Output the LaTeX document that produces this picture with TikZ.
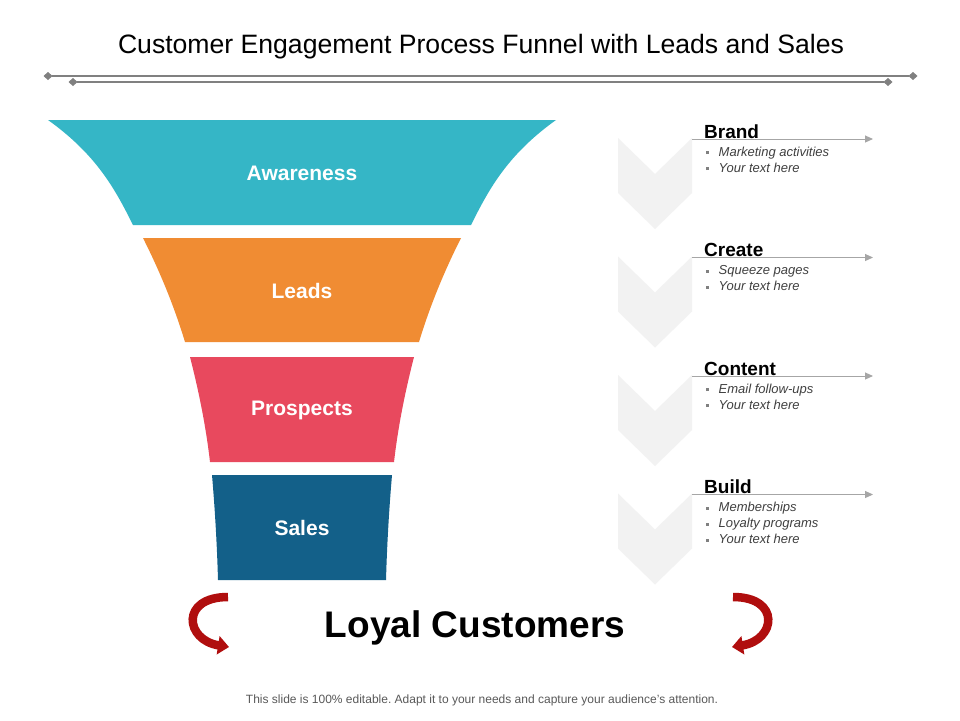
\documentclass[tikz,border=0pt]{standalone}
\usepackage{fontspec}
\setmainfont{Liberation Sans}
\usetikzlibrary{arrows.meta}
\frenchspacing

\definecolor{awarecol}{HTML}{35B6C6}
\definecolor{leadcol}{HTML}{F08C33}
\definecolor{prospcol}{HTML}{E8495E}
\definecolor{salescol}{HTML}{136089}
\definecolor{chevgray}{HTML}{F2F2F2}
\definecolor{linegray}{HTML}{A6A6A6}
\definecolor{rulegray}{HTML}{808080}
\definecolor{listgray}{HTML}{404040}
\definecolor{footgray}{HTML}{595959}
\definecolor{loopred}{HTML}{B00E0E}

\newcommand{\sqbul}{\textcolor{rulegray}{\rule[2pt]{3pt}{3pt}}}

\begin{document}
\begin{tikzpicture}[x=1pt, y=-1pt,
  band label/.style={text=white, font=\fontsize{21}{24}\selectfont\bfseries},
  chev/.style={fill=chevgray},
  stage head/.style={anchor=base west, inner sep=0pt, font=\fontsize{19}{22}\selectfont\bfseries},
  stage list/.style={anchor=base west, inner sep=0pt, text=listgray, font=\fontsize{13}{16}\selectfont\itshape},
  pointer/.style={draw=linegray, line width=1pt, -{Triangle[length=8pt,width=7pt]}},
  rule line/.style={draw=rulegray, line width=1.2pt, {Diamond[length=9pt,width=8pt]}-{Diamond[length=9pt,width=8pt]}},
  turn arrow/.style={draw=loopred, line width=8.5pt, -{Triangle[length=11pt,width=18pt]}}]

  \useasboundingbox[fill=white] (0,0) rectangle (960,720);

  % Title and the two rules under it
  \node[anchor=base, font=\fontsize{26.6}{30}\selectfont] (title) at (481,53)
    {Customer Engagement Process Funnel with Leads and Sales};
  \coordinate (ruleAa) at (43.5,76);  \coordinate (ruleAb) at (917.5,76);
  \coordinate (ruleBa) at (68.5,82);  \coordinate (ruleBb) at (892.5,82);
  \draw[rule line] (ruleAa) -- (ruleAb);
  \draw[rule line] (ruleBa) -- (ruleBb);

  % Funnel bands, widest on top
  \fill[awarecol] (48,120) -- (556,120) .. controls (507,155) and (488.5,190) .. (471,225)
    -- (133,225) .. controls (115.5,190) and (97,155) .. (48,120) -- cycle;
  \fill[leadcol] (143,238) -- (461,238) .. controls (443.5,272.7) and (429.5,307.3) .. (419,342)
    -- (185,342) .. controls (174.5,307.3) and (160.5,272.7) .. (143,238) -- cycle;
  \fill[prospcol] (190,357) -- (414,357) .. controls (405,392) and (398,427) .. (394,462)
    -- (210,462) .. controls (206,427) and (199,392) .. (190,357) -- cycle;
  \fill[salescol] (212,475) -- (392,475) .. controls (389,510) and (387,545) .. (386,580)
    -- (218,580) .. controls (217,545) and (215,510) .. (212,475) -- cycle;

  \node[band label] (awareness) at (302,173.5) {Awareness};
  \node[band label] (leads)     at (302,291)   {Leads};
  \node[band label] (prospects) at (302,410) {Prospects};
  \node[band label] (sales)     at (302,528) {Sales};

  % Chevrons behind the stage notes
  \fill[chev] (618,138) -- (655,174) -- (692,138) -- (692,193) -- (655,229) -- (618,193) -- cycle;
  \fill[chev] (618,256.5) -- (655,292.5) -- (692,256.5) -- (692,311.5) -- (655,347.5) -- (618,311.5) -- cycle;
  \fill[chev] (618,375) -- (655,411) -- (692,375) -- (692,430) -- (655,466) -- (618,430) -- cycle;
  \fill[chev] (618,493.5) -- (655,529.5) -- (692,493.5) -- (692,548.5) -- (655,584.5) -- (618,548.5) -- cycle;

  % Stage notes
  \coordinate (brandL) at (692,139);    \coordinate (brandR) at (873,139);
  \coordinate (createL) at (692,257.5); \coordinate (createR) at (873,257.5);
  \coordinate (contentL) at (692,376);  \coordinate (contentR) at (873,376);
  \coordinate (buildL) at (692,494.5);  \coordinate (buildR) at (873,494.5);
  \draw[pointer] (brandL) -- (brandR);
  \draw[pointer] (createL) -- (createR);
  \draw[pointer] (contentL) -- (contentR);
  \draw[pointer] (buildL) -- (buildR);

  \node[stage head] (brand) at (704,138) {Brand};
  \node[stage list] (brandlist) at (706,156) {%
    \begin{tabular}[t]{@{}l@{\hspace{9.5pt}}l@{}}
      \sqbul & Marketing activities \\
      \sqbul & Your text here
    \end{tabular}};

  \node[stage head] (create) at (704,256.5) {Create};
  \node[stage list] (createlist) at (706,274.5) {%
    \begin{tabular}[t]{@{}l@{\hspace{9.5pt}}l@{}}
      \sqbul & Squeeze pages \\
      \sqbul & Your text here
    \end{tabular}};

  \node[stage head] (content) at (704,375) {Content};
  \node[stage list] (contentlist) at (706,393) {%
    \begin{tabular}[t]{@{}l@{\hspace{9.5pt}}l@{}}
      \sqbul & Email follow-ups \\
      \sqbul & Your text here
    \end{tabular}};

  \node[stage head] (build) at (704,493.5) {Build};
  \node[stage list] (buildlist) at (706,511.5) {%
    \begin{tabular}[t]{@{}l@{\hspace{9.5pt}}l@{}}
      \sqbul & Memberships \\
      \sqbul & Loyalty programs \\
      \sqbul & Your text here
    \end{tabular}};

  % Loyal customers with the two turning arrows
  \node[anchor=base, font=\fontsize{37}{40}\selectfont\bfseries] (loyal) at (475,637) {Loyal Customers};
  \draw[turn arrow] (228,597) .. controls (180,597) and (185,640) .. (229,647);
  \draw[turn arrow] (733,597) .. controls (781,597) and (776,640) .. (732,647);

  \node[anchor=base, text=footgray, font=\fontsize{12}{14}\selectfont] (footer) at (482,703)
    {This slide is 100\% editable. Adapt it to your needs and capture your audience's attention.};
\end{tikzpicture}
\end{document}
